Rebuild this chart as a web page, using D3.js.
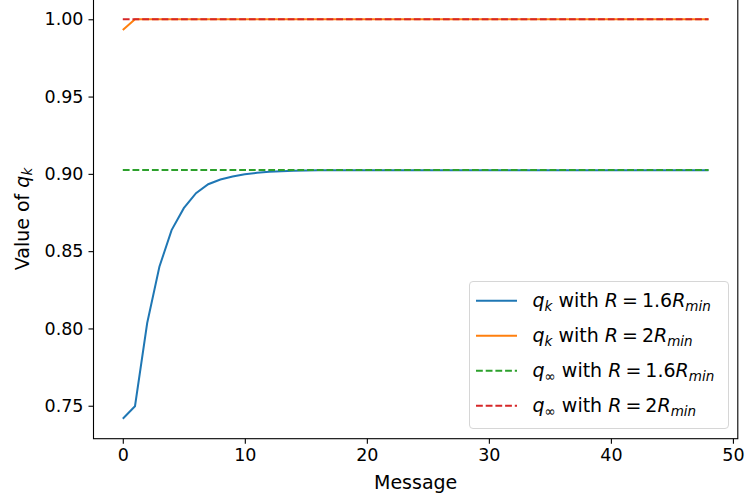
<!DOCTYPE html>
<html><head><meta charset="utf-8">
<script src="https://cdn.jsdelivr.net/npm/d3@7"></script>
<style>
body{margin:0;background:#fff;}
svg text{font-family:"DejaVu Sans",sans-serif;fill:#000;}
</style></head>
<body><svg id="c" width="745" height="497"></svg>
<script>
// ---- data ----
const messages = d3.range(0, 49);
const qk16 = [0.7416,0.7497,0.8035,0.8399,0.8636,0.8778,0.8875,0.8933,0.8963,0.8983,
  0.8997,0.9007,0.9013,0.9017,0.9020,0.9022,0.9023,0.9024,0.9024,0.9024,
  0.9024,0.9024,0.9024,0.9024,0.9024,0.9024,0.9024,0.9024,0.9024,0.9024,
  0.9024,0.9024,0.9024,0.9024,0.9024,0.9024,0.9024,0.9024,0.9024,0.9024,
  0.9024,0.9024,0.9024,0.9024,0.9024,0.9024,0.9024,0.9024,0.9024];
const qk2 = [0.9930,1,1,1,1,1,1,1,1,1, 1,1,1,1,1,1,1,1,1,1, 1,1,1,1,1,1,1,1,1,1,
  1,1,1,1,1,1,1,1,1,1, 1,1,1,1,1,1,1,1,1];
const qinf16 = messages.map(() => 0.9025);
const qinf2 = messages.map(() => 1.0);
const xTicks = [0,10,20,30,40,50];
const yTicks = [0.75,0.80,0.85,0.90,0.95,1.00];

const series = [
  {vals: qk16, color:"#1f77b4", dash:null, sub:"k", r:"1.6"},
  {vals: qk2, color:"#ff7f0e", dash:null, sub:"k", r:"2"},
  {vals: qinf16, color:"#2ca02c", dash:"6.8,2.9", sub:"\u221E", r:"1.6"},
  {vals: qinf2, color:"#d62728", dash:"6.8,2.9", sub:"\u221E", r:"2"}
];

// ---- layout ----
const L = 93.5, R = 737.8, T = -0.7, B = 438.7;
const svg = d3.select("#c");

const all = series.flatMap(s => s.vals);
const ymin = d3.min(all), ymax = d3.max(all);
const ym = (ymax - ymin) * 0.05;
const xmin = 0, xmax = 48, xm = (xmax - xmin) * 0.05;

const x = d3.scaleLinear().domain([xmin - xm, xmax + xm]).range([L, R]);
const y = d3.scaleLinear().domain([ymin - ym, ymax + ym]).range([B, T]);

const line = d3.line().x((d,i) => x(messages[i])).y(d => y(d));

series.forEach(s => {
  svg.append("path").datum(s.vals)
    .attr("d", line).attr("fill","none")
    .attr("stroke", s.color).attr("stroke-width", 2)
    .attr("stroke-dasharray", s.dash);
});

// axes
const xAxis = d3.axisBottom(x).tickValues(xTicks).tickSize(5).tickPadding(5).tickFormat(d3.format("d"));
const yAxis = d3.axisLeft(y).tickValues(yTicks).tickSize(5).tickPadding(5).tickFormat(d3.format(".2f"));
const gx = svg.append("g").attr("transform",`translate(0,${B})`).call(xAxis);
const gy = svg.append("g").attr("transform",`translate(${L},0)`).call(yAxis);
[gx,gy].forEach(g => {
  g.select(".domain").remove();
  g.selectAll(".tick line").attr("stroke","#000").attr("stroke-width",1.1);
  g.selectAll(".tick text").attr("font-size",17.5).attr("fill","#000")
   .style("font-family","DejaVu Sans");
});
// spines
svg.append("rect").attr("x",L).attr("y",T).attr("width",R-L).attr("height",B-T)
  .attr("fill","none").attr("stroke","#000").attr("stroke-width",1.1);

// axis labels
svg.append("text").attr("x",(L+R)/2).attr("y",488.5).attr("text-anchor","middle")
  .attr("font-size",19).text("Message");
const yl = svg.append("text").attr("transform",`translate(28.5,${(T+B)/2}) rotate(-90)`)
  .attr("text-anchor","middle").attr("font-size",19);
yl.append("tspan").text("Value of ");
yl.append("tspan").attr("font-style","italic").text("q");
yl.append("tspan").attr("font-style","italic").attr("font-size",13.5).attr("dy",3.5).text("k");

// legend
const lg = svg.append("g");
lg.append("rect").attr("x",469.5).attr("y",281.5).attr("width",259).attr("height",147)
  .attr("rx",3.5).attr("fill","#fff").attr("fill-opacity",0.8).attr("stroke","#d6d6d6").attr("stroke-width",1);
series.forEach((s,i) => {
  const cy = 300.7 + i*35;
  lg.append("line").attr("x1",476).attr("x2",517).attr("y1",cy).attr("y2",cy)
    .attr("stroke",s.color).attr("stroke-width",2).attr("stroke-dasharray",s.dash);
  const t = lg.append("text").attr("x",532.5).attr("y",cy+6.5).attr("font-size",19);
  t.append("tspan").attr("font-style","italic").text("q");
  t.append("tspan").attr("font-style","italic").attr("font-size",13.5).attr("dy",4).text(s.sub);
  t.append("tspan").attr("dy",-4).text(" with ");
  t.append("tspan").attr("font-style","italic").text("R");
  t.append("tspan").attr("dx",4).text("=");
  t.append("tspan").attr("dx",4).text(s.r);
  t.append("tspan").attr("font-style","italic").text("R");
  t.append("tspan").attr("font-style","italic").attr("font-size",13.5).attr("dy",4).text("min");
});
</script></body></html>
